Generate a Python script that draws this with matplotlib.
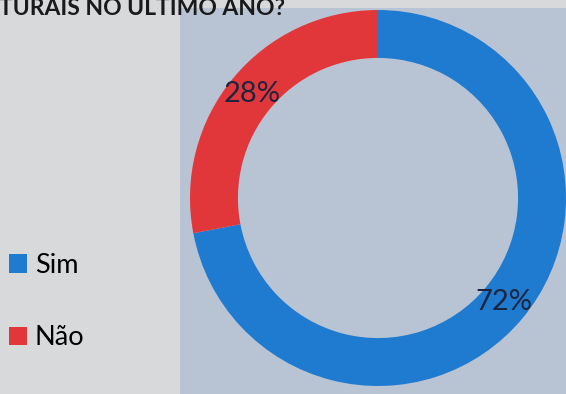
import matplotlib.pyplot as plt
from matplotlib.patches import Rectangle

# ==================== Data ====================== #

labels = ['Sim', 'Não']
values = [72, 28]
colors = ['#1f7bcf', '#e2373a']
title = 'TURAIS NO ÚLTIMO ANO?'

W, H = 566, 394

# ==================== Plot ====================== #

fig = plt.figure(figsize=(W / 100, H / 100), dpi=100, facecolor='#d8d9db')

# bluish panel behind the donut
fig.patches.append(Rectangle((180 / W, 0), 1 - 180 / W, (H - 8) / H,
                             transform=fig.transFigure, facecolor='#b8c4d4',
                             edgecolor='none', zorder=-1))

# donut center ~ (378, 198) px, outer radius ~188 px
cx, cy, R = 378, H - 198, 188
half = 192
ax = fig.add_axes([(cx - half) / W, (cy - half) / H, 2 * half / W, 2 * half / H])
ax.set_zorder(2)
ax.patch.set_visible(False)

wedges, texts, autotexts = ax.pie(values, colors=colors, startangle=90,
                                  counterclock=False, radius=1,
                                  wedgeprops=dict(width=0.255, edgecolor='none'),
                                  autopct='%d%%', pctdistance=0.87)
for t in autotexts:
    t.set_fontsize(21)
    t.set_color('#1c2540')
    t.set_family('Lato')

# pie() resets the limits, so fix them afterwards
ax.set_xlim(-half / R, half / R)
ax.set_ylim(-half / R, half / R)
ax.set_aspect('equal')
ax.axis('off')

fig.text(-0.002, (H - 15) / H, title, ha='left', va='baseline',
         fontsize=16.5, fontweight='bold', color='#1a1a1a', family='Lato')

fig.legend(wedges, labels, loc='upper left',
           bbox_to_anchor=(9 / W, (H - 253) / H), frameon=False,
           prop=dict(family='Lato', size=19.5), handlelength=0.65,
           handleheight=0.65, handletextpad=0.3, labelspacing=1.75,
           borderpad=0, borderaxespad=0)

fig.savefig('out.png', dpi=100, facecolor=fig.get_facecolor())
